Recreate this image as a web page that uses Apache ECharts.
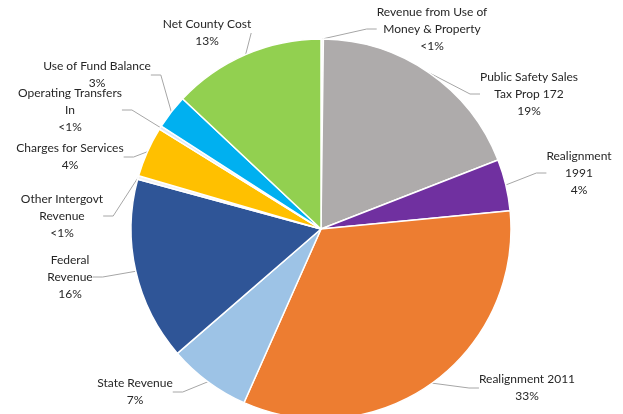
<!DOCTYPE html>
<html>
<head>
<meta charset="utf-8">
<script src="https://cdn.jsdelivr.net/npm/echarts@6/dist/echarts.min.js"></script>
<style>
  html, body { margin: 0; padding: 0; background: #fff; }
  #main { width: 623px; height: 414px; }
</style>
</head>
<body>
<div id="main"></div>
<script>
// slice names (label text, wrapped like the original)
var names = [
  'Revenue from Use of\nMoney & Property',
  'Public Safety Sales\nTax Prop 172',
  'Realignment\n1991',
  'Realignment 2011',
  'State Revenue',
  'Federal\nRevenue',
  'Other Intergovt\nRevenue',
  'Charges for Services',
  'Operating Transfers\nIn',
  'Use of Fund Balance',
  'Net County Cost'
]
// share of total, %
var values = [0.2, 18.9, 4.4, 33.2, 7.0, 15.6, 0.3, 4.3, 0.3, 2.9, 13.0]

var colors = ['#F2F2F2', '#AEABAB', '#7030A0', '#ED7D31', '#9DC3E6', '#2F5597',
              '#F2F2F2', '#FFC000', '#DEEBF7', '#00B0F0', '#92D050']

// label centres (layout only)
var labelPos = [
  [432, 29], [529, 94], [579, 173], [527, 388], [135, 392], [70, 277],
  [62, 216], [70, 157], [70, 110], [97, 75], [207, 33]
]

var myChart = echarts.init(document.getElementById('main'))

var option = {
  animation: false,
  color: colors,
  series: [
    {
      type: 'pie',
      center: [321, 229],
      radius: 190,
      startAngle: 90,
      clockwise: true,
      avoidLabelOverlap: false,
      itemStyle: { borderColor: '#fff', borderWidth: 1.5 },
      label: {
        show: true,
        position: 'outside',
        fontFamily: 'Lato',
        fontSize: 12,
        lineHeight: 17,
        color: '#262626',
        align: 'center',
        formatter: function (p) {
          var pct = p.value < 1 ? '<1%' : Math.round(p.value) + '%'
          return p.name + '\n' + pct
        }
      },
      labelLine: {
        show: true,
        length: 10,
        length2: 10,
        lineStyle: { color: '#A6A6A6', width: 1 }
      },
      labelLayout: function (params) {
        var pos = labelPos[params.dataIndex]
        return { x: pos[0], y: pos[1], align: 'center', verticalAlign: 'middle' }
      },
      emphasis: { disabled: true },
      data: names.map(function (n, i) {
        return { name: n, value: values[i] }
      })
    }
  ]
}

myChart.setOption(option)
</script>
</body>
</html>
